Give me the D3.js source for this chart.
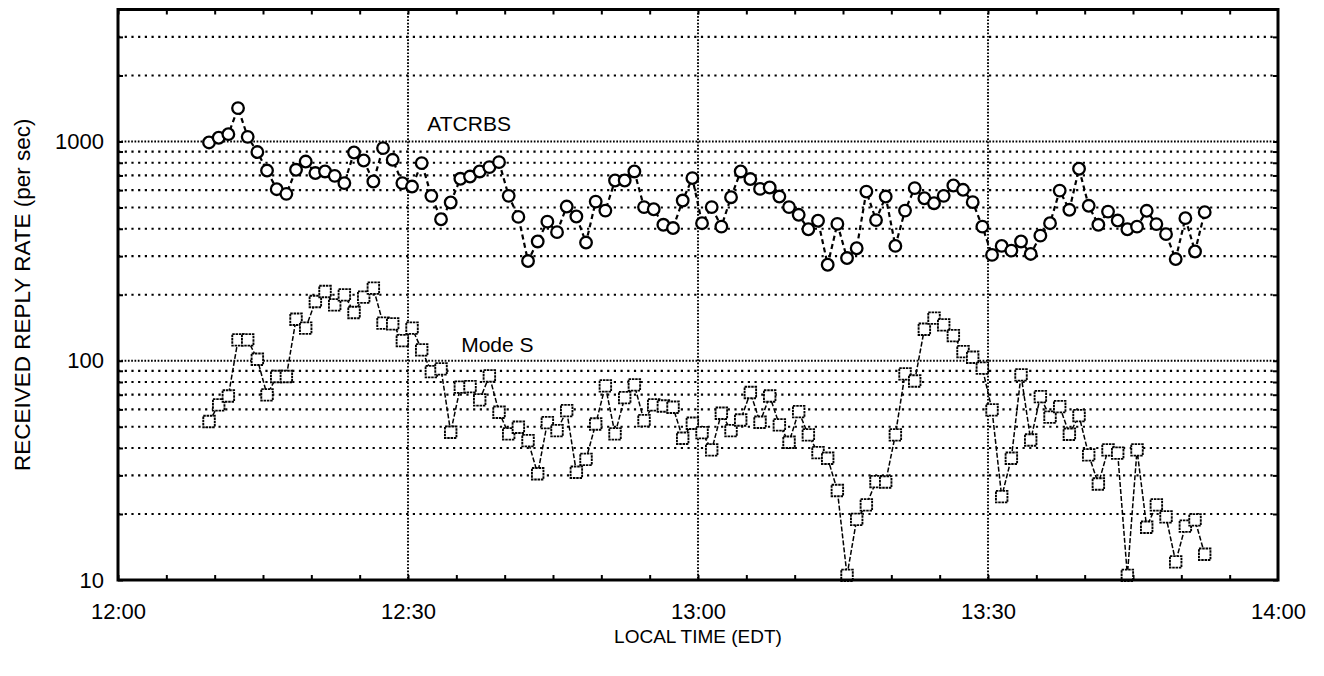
<!DOCTYPE html>
<html>
<head>
<meta charset="utf-8">
<script src="https://cdn.jsdelivr.net/npm/d3@7/dist/d3.min.js"></script>
<style>
  html, body { margin: 0; padding: 0; background: #fff; }
  svg { display: block; font-family: "Liberation Sans", Arial, Helvetica, sans-serif; }
</style>
</head>
<body>
<svg id="chart" width="1324" height="676"></svg>
<script>
// Sample times (one reading per minute)
const sampleTimes = [
  "12:09:25","12:10:25","12:11:25","12:12:25","12:13:25","12:14:25","12:15:25","12:16:25","12:17:25","12:18:25",
  "12:19:25","12:20:25","12:21:25","12:22:25","12:23:25","12:24:25","12:25:25","12:26:25","12:27:25","12:28:25",
  "12:29:25","12:30:25","12:31:25","12:32:25","12:33:25","12:34:25","12:35:25","12:36:25","12:37:25","12:38:25",
  "12:39:25","12:40:25","12:41:25","12:42:25","12:43:25","12:44:25","12:45:25","12:46:25","12:47:25","12:48:25",
  "12:49:25","12:50:25","12:51:25","12:52:25","12:53:25","12:54:25","12:55:25","12:56:25","12:57:25","12:58:25",
  "12:59:25","13:00:25","13:01:25","13:02:25","13:03:25","13:04:25","13:05:25","13:06:25","13:07:25","13:08:25",
  "13:09:25","13:10:25","13:11:25","13:12:25","13:13:25","13:14:25","13:15:25","13:16:25","13:17:25","13:18:25",
  "13:19:25","13:20:25","13:21:25","13:22:25","13:23:25","13:24:25","13:25:25","13:26:25","13:27:25","13:28:25",
  "13:29:25","13:30:25","13:31:25","13:32:25","13:33:25","13:34:25","13:35:25","13:36:25","13:37:25","13:38:25",
  "13:39:25","13:40:25","13:41:25","13:42:25","13:43:25","13:44:25","13:45:25","13:46:25","13:47:25","13:48:25",
  "13:49:25","13:50:25","13:51:25","13:52:25"
];

// ATCRBS received reply rate (per sec)
const atcrbsRate = [
  990, 1040, 1080, 1420, 1050, 895, 737, 606, 577, 743,
  810, 718, 730, 697, 646, 891, 819, 657, 933, 825,
  646, 623, 797, 565, 442, 527, 676, 692, 730, 764,
  805, 565, 453, 285, 350, 431, 386, 505, 455, 346,
  532, 484, 664, 664, 730, 502, 491, 417, 403, 538,
  681, 424, 502, 409, 557, 730, 674, 608, 617, 561,
  502, 463, 398, 435, 274, 421, 294, 326, 591, 438,
  561, 334, 484, 613, 551, 523, 565, 630, 602, 529,
  409, 304, 334, 318, 350, 307, 372, 424, 597, 488,
  751, 509, 417, 479, 436, 398, 409, 483, 420, 378,
  291, 447, 315, 476
];

// Mode S received reply rate (per sec)
const modeSRate = [
  52.8, 62.9, 69.1, 124.5, 124.5, 101.6, 69.9, 84.7, 84.7, 154.7,
  140.8, 186.2, 206.8, 179.8, 199.7, 165.9, 195, 214.3, 148.4, 147.3,
  123.6, 140.8, 112.1, 89.2, 91.8, 47.2, 75.8, 76.2, 66.3, 85.3,
  58.2, 46.4, 49.7, 43.2, 30.5, 52.2, 48, 59.2, 31, 35.5,
  51.5, 76.8, 46.4, 67.9, 77.6, 53.3, 62.9, 62.2, 61.4, 44.3,
  51.9, 47, 39.2, 57.6, 48, 53.7, 71.6, 52.4, 69.1, 51,
  42.5, 58.6, 45.9, 38.1, 35.9, 25.6, 10.5, 18.9, 22, 28.1,
  28, 45.9, 87.1, 80.9, 139.3, 156.4, 145.8, 130.2, 110.1, 103.8,
  92.5, 59.7, 24, 35.9, 86.2, 43.5, 68.6, 55.3, 61.8, 46.2,
  56.2, 37.2, 27.4, 39.2, 37.9, 10.5, 39.2, 17.4, 22, 19.4,
  12.1, 17.6, 18.8, 13.1
];

// Axis ticks and labels
const timeTickLabels = ["12:00", "12:30", "13:00", "13:30", "14:00"];
const timeDomain = ["12:00", "14:00"];
const rateTickLabels = [10, 100, 1000];
const rateDomain = [10, 4000];
const rateGridValues = [20, 30, 40, 50, 60, 70, 80, 90, 200, 300, 400, 500, 600, 700, 800, 900, 2000, 3000];
const seriesLabels = ["ATCRBS", "Mode S"];
const xTitle = "LOCAL TIME (EDT)";
const yTitle = "RECEIVED REPLY RATE (per sec)";

const W = 1324, H = 676;
const margin = { top: 9.5, right: 46, bottom: 96, left: 118 };
const iw = W - margin.left - margin.right;
const ih = H - margin.top - margin.bottom;

const parseHMS = d3.timeParse("%H:%M:%S");
const parseHM = d3.timeParse("%H:%M");

const times = sampleTimes.map(parseHMS);

const x = d3.scaleTime()
  .domain(timeDomain.map(parseHM))
  .range([0, iw]);

const y = d3.scaleLog()
  .domain(rateDomain)
  .range([ih, 0]);

const svg = d3.select("#chart");
const g = svg.append("g").attr("transform", `translate(${margin.left},${margin.top})`);

// Horizontal grid lines (sparse dots for intermediate values)
g.append("g").selectAll("line")
  .data(rateGridValues)
  .join("line")
  .attr("x1", 0).attr("x2", iw)
  .attr("y1", d => y(d)).attr("y2", d => y(d))
  .attr("stroke", "#000")
  .attr("stroke-width", 2.2)
  .attr("stroke-dasharray", "2.2,4.5");

// Decade grid lines (dense dots)
g.append("g").selectAll("line")
  .data(rateTickLabels.filter(v => v > rateDomain[0]))
  .join("line")
  .attr("x1", 0).attr("x2", iw)
  .attr("y1", d => y(d)).attr("y2", d => y(d))
  .attr("stroke", "#000")
  .attr("stroke-width", 1.9)
  .attr("stroke-dasharray", "1.7,1.6");

// Vertical grid lines at the half-hour marks
const innerTimes = timeTickLabels.slice(1, -1).map(parseHM);
g.append("g").selectAll("line")
  .data(innerTimes)
  .join("line")
  .attr("x1", d => x(d)).attr("x2", d => x(d))
  .attr("y1", 0).attr("y2", ih)
  .attr("stroke", "#000")
  .attr("stroke-width", 1.9)
  .attr("stroke-dasharray", "1.7,1.6");

// Minor (5-minute) ticks, top and bottom, pointing inward
const fiveMin = d3.timeMinute.every(5).range(x.domain()[0], x.domain()[1]);
const bottomMinor = d3.axisBottom(x).tickValues(fiveMin).tickSize(-5).tickFormat("");
const topMinor = d3.axisTop(x).tickValues(fiveMin).tickSize(-5).tickFormat("");
g.append("g").attr("transform", `translate(0,${ih})`).call(bottomMinor)
  .call(a => a.select(".domain").remove())
  .selectAll("line").attr("stroke-width", 2);
g.append("g").call(topMinor)
  .call(a => a.select(".domain").remove())
  .selectAll("line").attr("stroke-width", 2);

// Y ticks on both sides (inward)
const yTickVals = rateGridValues.concat(rateTickLabels);
g.append("g").call(d3.axisLeft(y).tickValues(yTickVals).tickSize(-5).tickFormat(""))
  .call(a => a.select(".domain").remove())
  .selectAll("line").attr("stroke-width", 2);
g.append("g").attr("transform", `translate(${iw},0)`)
  .call(d3.axisRight(y).tickValues(yTickVals).tickSize(-5).tickFormat(""))
  .call(a => a.select(".domain").remove())
  .selectAll("line").attr("stroke-width", 2);

// Labelled time axis
const xAxis = d3.axisBottom(x)
  .tickValues(timeTickLabels.map(parseHM))
  .tickSize(0)
  .tickPadding(23)
  .tickFormat(d3.timeFormat("%H:%M"));
g.append("g").attr("transform", `translate(0,${ih})`).call(xAxis)
  .call(a => a.select(".domain").remove())
  .selectAll("text")
  .attr("font-size", 22)
  .attr("font-family", "Liberation Sans, Arial, sans-serif")
  .attr("fill", "#000");

// Labelled rate axis
const yAxis = d3.axisLeft(y)
  .tickValues(rateTickLabels)
  .tickSize(0)
  .tickPadding(14)
  .tickFormat(d3.format("d"));
g.append("g").call(yAxis)
  .call(a => a.select(".domain").remove())
  .selectAll("text")
  .attr("font-size", 22)
  .attr("font-family", "Liberation Sans, Arial, sans-serif")
  .attr("fill", "#000");

// Series lines
const seriesLine = d3.line()
  .x((d, i) => x(times[i]))
  .y(d => y(d));

g.append("path")
  .datum(atcrbsRate)
  .attr("d", seriesLine)
  .attr("fill", "none")
  .attr("stroke", "#000")
  .attr("stroke-width", 2.2)
  .attr("stroke-dasharray", "5,3.5");

g.append("path")
  .datum(modeSRate)
  .attr("d", seriesLine)
  .attr("fill", "none")
  .attr("stroke", "#000")
  .attr("stroke-width", 1.5)
  .attr("stroke-dasharray", "5,2");

// ATCRBS markers: open circles
g.append("g").selectAll("circle")
  .data(atcrbsRate)
  .join("circle")
  .attr("cx", (d, i) => x(times[i]))
  .attr("cy", d => y(d))
  .attr("r", 5.8)
  .attr("fill", "#fff")
  .attr("stroke", "#000")
  .attr("stroke-width", 2.3);

// Mode S markers: open squares
const sq = 11.5;
g.append("g").selectAll("rect")
  .data(modeSRate)
  .join("rect")
  .attr("x", (d, i) => x(times[i]) - sq / 2)
  .attr("y", d => y(d) - sq / 2)
  .attr("width", sq)
  .attr("height", sq)
  .attr("fill", "#fff")
  .attr("stroke", "#000")
  .attr("stroke-width", 1.9)
  .attr("stroke-dasharray", "2.5,0.8");

// Plot frame
g.append("rect")
  .attr("x", 0).attr("y", 0)
  .attr("width", iw).attr("height", ih)
  .attr("fill", "none")
  .attr("stroke", "#000")
  .attr("stroke-width", 3);

// Series annotations
g.append("text")
  .attr("x", x(parseHMS("12:32:00")))
  .attr("y", y(1000) - 11)
  .attr("font-size", 21)
  .text(seriesLabels[0]);

g.append("text")
  .attr("x", x(parseHMS("12:35:30")))
  .attr("y", y(100) - 9)
  .attr("font-size", 21)
  .text(seriesLabels[1]);

// Axis titles
svg.append("text")
  .attr("x", margin.left + iw / 2)
  .attr("y", 643)
  .attr("text-anchor", "middle")
  .attr("font-size", 19)
  .text(xTitle);

svg.append("text")
  .attr("transform", `translate(30,${margin.top + ih / 2}) rotate(-90)`)
  .attr("text-anchor", "middle")
  .attr("font-size", 22.5)
  .text(yTitle);
</script>
</body>
</html>
